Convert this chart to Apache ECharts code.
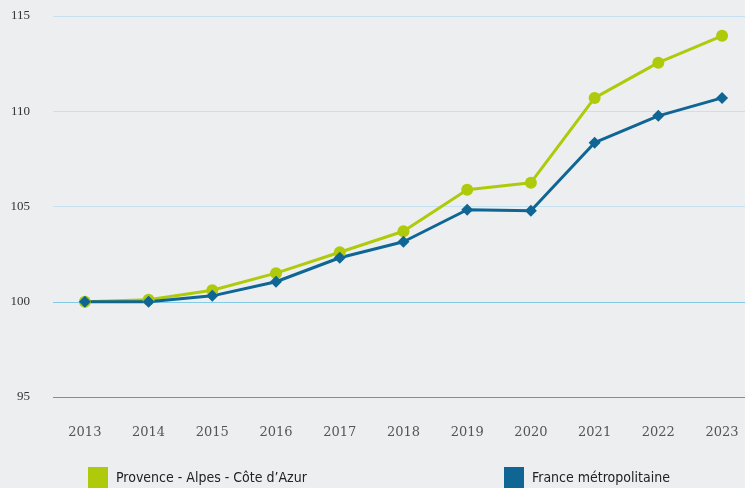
<!DOCTYPE html>
<html>
<head>
<meta charset="utf-8">
<script src="https://cdn.jsdelivr.net/npm/echarts@6/dist/echarts.min.js"></script>
<style>
html,body{margin:0;padding:0;background:#ECEEF0;}
#c{width:745px;height:488px;}
</style>
</head>
<body>
<div id="c"></div>
<script>
const years = [2013, 2014, 2015, 2016, 2017, 2018, 2019, 2020, 2021, 2022, 2023];
const pacaName = 'Provence - Alpes - Côte d\u2019Azur';
const franceName = 'France métropolitaine';
const paca = [100, 100.1, 100.6, 101.5, 102.6, 103.7, 105.88, 106.25, 110.7, 112.55, 113.96];
const france = [100, 100, 100.31, 101.05, 102.31, 103.15, 104.83, 104.78, 108.35, 109.76, 110.7];
const yTicks = [95, 100, 105, 110, 115];

const pair = arr => years.map((y, i) => [y, arr[i]]);

const chart = echarts.init(document.getElementById('c'), null, {renderer: 'canvas'});
chart.setOption({
  backgroundColor: '#ECEEF0',
  animation: false,
  grid: {left: 53, top: 16, right: 0, bottom: 91},
  xAxis: {
    type: 'value',
    min: 2012.5, max: 2023.36,
    splitLine: {show: false},
    axisLine: {show: false},
    axisTick: {show: false},
    axisLabel: {customValues: years, margin: 29, color: '#555', fontFamily: 'DejaVu Serif', fontSize: 13,
                formatter: v => String(v)}
  },
  yAxis: {
    type: 'value',
    min: yTicks[0], max: yTicks[yTicks.length - 1], interval: 5,
    axisLine: {show: false},
    axisTick: {show: false},
    axisLabel: {margin: 23, color: '#333', fontFamily: 'Liberation Serif', fontSize: 13},
    splitLine: {lineStyle: {width: 1, color: ['#6f93a8', '#86cbe6', '#c6e2f2', '#c6e2f2', '#c6e2f2']}}
  },
  legend: [
    {data: [pacaName], left: 83, top: 462, icon: 'rect', itemWidth: 20, itemHeight: 22, itemGap: 8,
     textStyle: {fontFamily: 'DejaVu Sans Condensed, DejaVu Sans', fontSize: 14, color: '#222', padding: [0, 0, 0, 3]}},
    {data: [franceName], left: 499, top: 462, icon: 'rect', itemWidth: 20, itemHeight: 22, itemGap: 8,
     textStyle: {fontFamily: 'DejaVu Sans Condensed, DejaVu Sans', fontSize: 14, color: '#222', padding: [0, 0, 0, 3]}}
  ],
  series: [
    {name: pacaName, type: 'line', data: pair(paca), color: '#AFCA0B',
     symbol: 'circle', symbolSize: 12, lineStyle: {width: 3}, itemStyle: {color: '#AFCA0B'}},
    {name: franceName, type: 'line', data: pair(france), color: '#0F6695',
     symbol: 'diamond', symbolSize: 12, lineStyle: {width: 3}, itemStyle: {color: '#0F6695'}}
  ]
});
</script>
</body>
</html>
